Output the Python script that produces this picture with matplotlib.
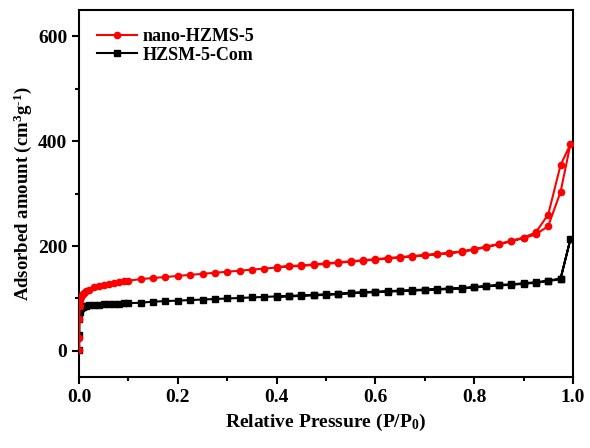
import matplotlib
matplotlib.use("Agg")
import matplotlib.pyplot as plt
import numpy as np

plt.rcParams['font.family'] = 'Liberation Serif'
plt.rcParams['font.weight'] = 'bold'
plt.rcParams['mathtext.fontset'] = 'custom'
plt.rcParams['mathtext.rm'] = 'Liberation Serif:bold'
plt.rcParams['mathtext.bf'] = 'Liberation Serif:bold'
plt.rcParams['mathtext.it'] = 'Liberation Serif:bold'
plt.rcParams['mathtext.default'] = 'bf'

# nano-HZMS-5 isotherm, adsorption branch then desorption branch
nano_ads_p = [0.0001, 0.0003, 0.0006, 0.001, 0.002, 0.004, 0.006, 0.008, 0.01, 0.015,
              0.02, 0.03, 0.04, 0.05, 0.06, 0.07, 0.08, 0.09, 0.1,
              0.125, 0.15, 0.175, 0.2, 0.225, 0.25, 0.275, 0.3, 0.325, 0.35,
              0.375, 0.4, 0.425, 0.45, 0.475, 0.5, 0.525, 0.55, 0.575, 0.6,
              0.625, 0.65, 0.675, 0.7, 0.725, 0.75, 0.775, 0.8, 0.825, 0.85,
              0.875, 0.9, 0.925, 0.95, 0.975, 0.995]
nano_ads_v = [2, 25, 60, 85, 97, 103, 106, 108, 110, 114,
              117, 121, 124, 126, 128, 130, 131, 133, 134,
              137, 139, 141, 143, 145, 147, 149, 151, 153, 155,
              157, 159, 161, 162, 164, 166, 168, 170, 172, 174,
              176, 178, 180, 182, 184, 186, 189, 193, 198, 203,
              209, 215, 222, 238, 303, 394]
nano_des_p = [0.995, 0.975, 0.95, 0.925, 0.9, 0.875, 0.85, 0.825, 0.8, 0.775,
              0.75, 0.725, 0.7, 0.675, 0.65, 0.625, 0.6, 0.575, 0.55, 0.525,
              0.5, 0.475, 0.45, 0.425, 0.4]
nano_des_v = [394, 354, 260, 226, 216, 210, 204, 199, 194, 190,
              187, 185, 183, 181, 179, 177, 175, 173, 171, 169,
              167, 165, 163, 162, 160]

# commercial HZSM-5 isotherm
com_ads_p = nano_ads_p
com_ads_v = [2, 30, 60, 75, 80, 82, 83, 84, 85, 86,
             87, 88, 88, 89, 89, 90, 90, 91, 91,
             92, 94, 95, 96, 97, 98, 99, 100, 101, 102,
             103, 104, 105, 106, 107, 108, 109, 111, 112, 113,
             114, 115, 116, 117, 118, 119, 120, 122, 124, 126,
             127, 129, 131, 134, 138, 213]
com_des_p = nano_des_p
com_des_v = [213, 137, 133, 130, 128, 126, 125, 123, 121, 119,
             118, 117, 116, 115, 114, 113, 112, 111, 110, 108,
             107, 106, 105, 104, 103]

fig = plt.figure(figsize=(5.9, 4.48), dpi=100)
ax = fig.add_axes([0.134, 0.158, 0.837, 0.82])

p_nano = np.concatenate([nano_ads_p, nano_des_p[1:]])
v_nano = np.concatenate([nano_ads_v, nano_des_v[1:]])
p_com = np.concatenate([com_ads_p, com_des_p[1:]])
v_com = np.concatenate([com_ads_v, com_des_v[1:]])

ax.plot(p_nano, v_nano, color='#ff0000', marker='o', markersize=4.5, lw=1.5,
        label='nano-HZMS-5', zorder=3)
ax.plot(p_com, v_com, color='black', marker='s', markersize=4, lw=1.5,
        label='HZSM-5-Com', zorder=2)

ax.set_xlim(0, 1.0)
ax.set_ylim(-50, 650)
ax.set_xticks(np.arange(0, 1.01, 0.2))
ax.set_xticks(np.arange(0, 1.01, 0.1), minor=True)
ax.set_yticks([0, 200, 400, 600])
ax.set_yticks(np.arange(0, 601, 100), minor=True)
ax.tick_params(which='major', direction='out', length=5, width=1.5, labelsize=14)
ax.tick_params(which='minor', direction='out', length=3, width=1.5)
for s in ax.spines.values():
    s.set_linewidth(1.5)

ax.set_xlabel('Relative Pressure (P/P$_0$)', fontsize=14, fontweight='bold', labelpad=4)
ax.set_ylabel('Adsorbed amount (cm$^3$g$^{\\text{-}1}$)', fontsize=13.5, fontweight='bold',
              labelpad=3)

ax.legend(loc='upper left', frameon=False, fontsize=13, handlelength=2.2,
          handletextpad=0.3, borderaxespad=0.6, labelspacing=0.1,
          borderpad=0.4)

fig.savefig('out.png', dpi=100)
